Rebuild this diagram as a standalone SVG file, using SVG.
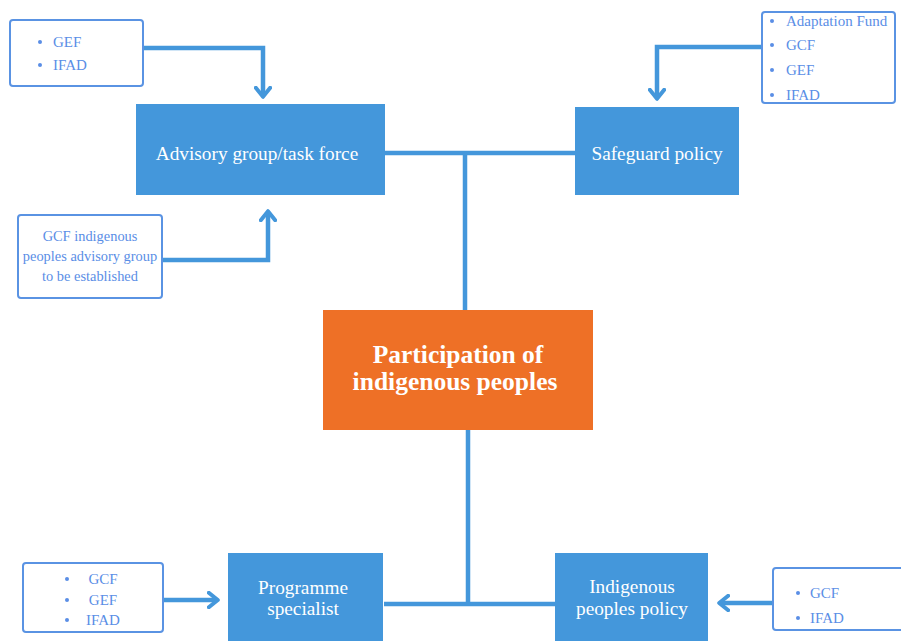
<svg xmlns="http://www.w3.org/2000/svg" width="901" height="641" viewBox="0 0 901 641">
<defs>
<marker id="ah" viewBox="0 0 10 10" refX="5" refY="5" markerWidth="4" markerHeight="4" orient="auto-start-reverse" markerUnits="strokeWidth">
<path d="M1,1 L6,5 L1,9" fill="none" stroke="#4497db" stroke-width="2.2" stroke-linecap="round" stroke-linejoin="round"/>
</marker>
<style>
.node{fill:#4497db}
.main{fill:#ee7026}
.src{fill:#fff;stroke:#5a93e3;stroke-width:2}
.t{font-family:"Liberation Serif","Times New Roman",serif;fill:#fff;font-size:19.3px;text-anchor:middle}
.tm{font-family:"Liberation Serif","Times New Roman",serif;fill:#fff;font-size:25.5px;font-weight:bold;text-anchor:middle}
.s{font-family:"Liberation Serif","Times New Roman",serif;fill:#5a8ee6;font-size:15px}
.sc{font-family:"Liberation Serif","Times New Roman",serif;fill:#5a8ee6;font-size:14.4px;text-anchor:middle}
.b{fill:#5a8ee6}
.c{fill:none;stroke:#4497db;stroke-width:4.5}
.a{fill:none;stroke:#4497db;stroke-width:4.5;marker-end:url(#ah)}
</style>
</defs>
<rect width="901" height="641" fill="#fff"/>
<g id="connectors">
<path class="c" d="M384,153 H576 M465,153 V310"/>
<path class="c" d="M468,430 V604 M384,604 H555"/>
<path class="a" d="M143,48 H263 V95"/>
<path class="a" d="M762,47 H657 V97"/>
<path class="a" d="M162,260 H268 V213"/>
<path class="a" d="M163,600 H216"/>
<path class="a" d="M773,603 H721"/>
</g>
<g id="advisory">
<rect class="node" x="136" y="104" width="249" height="91"/>
<text class="t" x="257" y="160">Advisory group/task force</text>
</g>
<g id="safeguard">
<rect class="node" x="575" y="107" width="164" height="88"/>
<text class="t" x="657" y="160">Safeguard policy</text>
</g>
<g id="participation">
<rect class="main" x="323" y="310" width="270" height="120"/>
<text class="tm" x="458" y="363">Participation of</text>
<text class="tm" x="455" y="390">indigenous peoples</text>
</g>
<g id="programme">
<rect class="node" x="228" y="553" width="155" height="88"/>
<text class="t" x="303" y="594">Programme</text>
<text class="t" x="303" y="615">specialist</text>
</g>
<g id="ippolicy">
<rect class="node" x="555" y="553" width="153" height="88"/>
<text class="t" x="632" y="593">Indigenous</text>
<text class="t" x="632" y="615">peoples policy</text>
</g>
<g id="src-gef-ifad">
<rect class="src" x="10" y="20" width="133" height="66" rx="3"/>
<circle class="b" cx="40" cy="42" r="2"/><text class="s" x="53" y="47">GEF</text>
<circle class="b" cx="40" cy="65" r="2"/><text class="s" x="53" y="70">IFAD</text>
</g>
<g id="src-safeguard">
<rect class="src" x="762" y="12" width="133" height="91" rx="3"/>
<circle class="b" cx="772" cy="21" r="2"/><text class="s" x="786" y="26">Adaptation Fund</text>
<circle class="b" cx="772" cy="45" r="2"/><text class="s" x="786" y="50">GCF</text>
<circle class="b" cx="772" cy="70" r="2"/><text class="s" x="786" y="75">GEF</text>
<circle class="b" cx="772" cy="95" r="2"/><text class="s" x="786" y="100">IFAD</text>
</g>
<g id="src-gcf-group">
<rect class="src" x="18" y="215" width="144" height="83" rx="3"/>
<text class="sc" x="90" y="241">GCF indigenous</text>
<text class="sc" x="90" y="261">peoples advisory group</text>
<text class="sc" x="90" y="281">to be established</text>
</g>
<g id="src-programme">
<rect class="src" x="23" y="563" width="140" height="69" rx="3"/>
<circle class="b" cx="67" cy="579" r="2"/><text class="s" x="103" y="584" text-anchor="middle">GCF</text>
<circle class="b" cx="67" cy="600" r="2"/><text class="s" x="103" y="605" text-anchor="middle">GEF</text>
<circle class="b" cx="67" cy="620" r="2"/><text class="s" x="103" y="625" text-anchor="middle">IFAD</text>
</g>
<g id="src-ippolicy">
<rect class="src" x="773" y="568" width="135" height="62" rx="3"/>
<circle class="b" cx="798" cy="593" r="2"/><text class="s" x="810" y="598">GCF</text>
<circle class="b" cx="798" cy="618" r="2"/><text class="s" x="810" y="623">IFAD</text>
</g>
</svg>
